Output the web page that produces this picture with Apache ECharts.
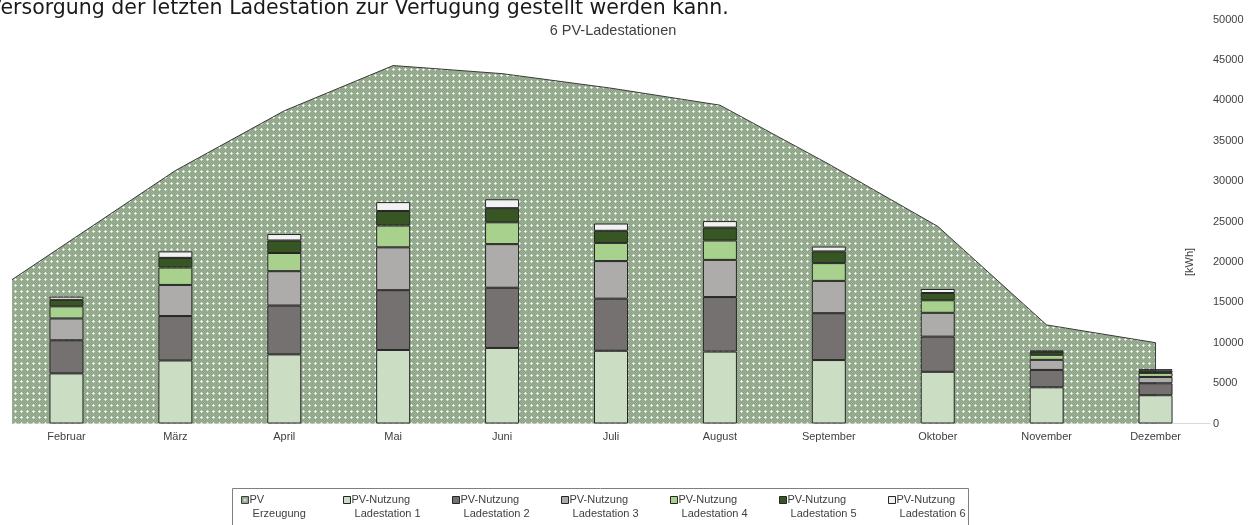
<!DOCTYPE html>
<html>
<head>
<meta charset="utf-8">
<script src="https://cdn.jsdelivr.net/npm/echarts@6/dist/echarts.min.js"></script>
<style>
  html, body { margin: 0; padding: 0; background: #ffffff; }
  #chart { width: 1253px; height: 525px; }
</style>
</head>
<body>
<div id="chart"></div>
<script>
// Months shown on the category axis
const months = ['Februar', 'März', 'April', 'Mai', 'Juni', 'Juli', 'August', 'September', 'Oktober', 'November', 'Dezember'];

// PV generation [kWh]: value at the left edge of the plot, then one value per month
const pvEdgeValue = 17800;
const pvErzeugung = [22300, 31300, 38700, 44300, 43300, 41500, 39400, 32100, 24400, 12200, 10000];

// PV usage per charging station [kWh]
const ladestation1 = [6200, 7800, 8550, 9100, 9350, 9000, 8900, 7850, 6400, 4480, 3500];
const ladestation2 = [4100, 5500, 6050, 7400, 7450, 6450, 6750, 5800, 4350, 2150, 1480];
const ladestation3 = [2700, 3850, 4250, 5300, 5400, 4650, 4600, 4000, 2950, 1250, 780];
const ladestation4 = [1500, 2150, 2250, 2700, 2700, 2250, 2400, 2200, 1550, 620, 500];
const ladestation5 = [800, 1200, 1550, 1800, 1750, 1500, 1600, 1450, 900, 370, 290];
const ladestation6 = [400, 800, 800, 1100, 1100, 900, 800, 600, 500, 170, 170];

// Value axis ticks
const yMin = 0;
const yMax = 50000;
const yStep = 5000;

const FONT = '"Liberation Sans", Arial, sans-serif';
const TEXT = '#404040';

// Dotted green fill used for the generation area
function makeDotPattern() {
  const c = document.createElement('canvas');
  c.width = 6; c.height = 6;
  const g = c.getContext('2d');
  g.fillStyle = '#8aa283';
  g.fillRect(0, 0, 6, 6);
  g.fillStyle = '#9fb399';
  for (let y = 0; y < 6; y++) {
    for (let x = 0; x < 6; x++) {
      if ((x + y) % 2 === 0) g.fillRect(x, y, 1, 1);
    }
  }
  g.fillStyle = '#ffffff';
  g.fillRect(3, 3, 1, 1);
  g.fillStyle = '#dfe7dc';
  g.fillRect(2, 3, 1, 1); g.fillRect(4, 3, 1, 1);
  g.fillRect(3, 2, 1, 1); g.fillRect(3, 4, 1, 1);
  return c;
}
const dotFill = { image: makeDotPattern(), repeat: 'repeat' };

// Generation outline: starts at the plot's left edge, passes each month centre,
// and closes down to the baseline at the last month
const areaData = [[-0.5, pvEdgeValue]].concat(pvErzeugung.map((v, i) => [i, v]));
areaData.push([pvErzeugung.length - 1, 0]);

const stations = [
  { name: 'PV-Nutzung Ladestation 1', data: ladestation1, color: '#cbddc3' },
  { name: 'PV-Nutzung Ladestation 2', data: ladestation2, color: '#767171' },
  { name: 'PV-Nutzung Ladestation 3', data: ladestation3, color: '#aeabab' },
  { name: 'PV-Nutzung Ladestation 4', data: ladestation4, color: '#a9d18e' },
  { name: 'PV-Nutzung Ladestation 5', data: ladestation5, color: '#375623' },
  { name: 'PV-Nutzung Ladestation 6', data: ladestation6, color: '#f2f2f2' }
];

// Legend text: an empty first line keeps the icon beside the upper text line
const legendLabels = {
  'PV Erzeugung': '\nPV\n Erzeugung'
};
stations.forEach((s, i) => { legendLabels[s.name] = '\nPV-Nutzung\n Ladestation ' + (i + 1); });

const chart = echarts.init(document.getElementById('chart'), null, { renderer: 'canvas' });

chart.setOption({
  animation: false,
  backgroundColor: '#ffffff',
  textStyle: { fontFamily: FONT },
  grid: { left: 12, right: 43, top: 19.5, bottom: 101.5, containLabel: false },
  xAxis: [
    {
      type: 'category',
      data: months,
      boundaryGap: true,
      axisLine: { show: true, lineStyle: { color: '#d9d9d9', width: 1 } },
      axisTick: { show: false },
      axisLabel: { color: TEXT, fontSize: 11, fontFamily: FONT, margin: 8 },
      splitLine: { show: false }
    },
    {
      type: 'value',
      min: -0.5,
      max: months.length - 0.5,
      show: false
    }
  ],
  yAxis: {
    type: 'value',
    position: 'right',
    min: yMin,
    max: yMax,
    interval: yStep,
    axisLine: { show: false },
    axisTick: { show: false },
    splitLine: { show: false },
    axisLabel: { color: TEXT, fontSize: 11, fontFamily: FONT, margin: 3, formatter: v => String(v) }
  },
  legend: {
    left: 241,
    top: 479,
    padding: 0,
    itemGap: 5.5,
    itemWidth: 7,
    itemHeight: 7,
    icon: 'rect',
    selectedMode: false,
    textStyle: { color: TEXT, fontSize: 11, fontFamily: FONT, lineHeight: 14, width: 95, padding: [0, 0, 0, -4] },
    formatter: name => legendLabels[name],
    data: [{ name: 'PV Erzeugung', textStyle: { width: 88 }, itemStyle: { color: dotFill, borderColor: '#404040', borderWidth: 1 } }]
      .concat(stations.map(s => ({ name: s.name, itemStyle: { color: s.color, borderColor: '#262626', borderWidth: 1 } })))
  },
  graphic: [
    {
      type: 'text', x: -12, y: -2,
      style: {
        text: 'Versorgung der letzten Ladestation zur Verfügung gestellt werden kann.',
        font: '20.5px "DejaVu Sans", Verdana, sans-serif', fill: '#1a1a1a', textVerticalAlign: 'top'
      }
    },
    {
      type: 'text', x: 613, y: 31,
      style: { text: '6 PV-Ladestationen', font: '14.5px ' + FONT, fill: TEXT, textAlign: 'center', textVerticalAlign: 'middle' }
    },
    {
      type: 'text', x: 1190, y: 262, rotation: Math.PI / 2,
      style: { text: '[kWh]', font: '11px ' + FONT, fill: TEXT, textAlign: 'center', textVerticalAlign: 'middle' }
    },
    {
      type: 'rect', shape: { x: 232.5, y: 488.5, width: 736, height: 60 },
      style: { fill: 'none', stroke: '#7f7f7f', lineWidth: 1 }, z: 0
    }
  ],
  series: [
    {
      name: 'PV Erzeugung',
      type: 'line',
      xAxisIndex: 1,
      data: areaData,
      symbol: 'none',
      z: 1,
      lineStyle: { color: '#3a3a3a', width: 1 },
      itemStyle: { color: '#8aa283' },
      areaStyle: { color: dotFill, opacity: 1 }
    }
  ].concat(stations.map(s => ({
    name: s.name,
    type: 'bar',
    stack: 'nutzung',
    xAxisIndex: 0,
    data: s.data,
    barWidth: 34,
    z: 3,
    itemStyle: { color: s.color, borderColor: '#262626', borderWidth: 1 }
  })))
});
</script>
</body>
</html>
